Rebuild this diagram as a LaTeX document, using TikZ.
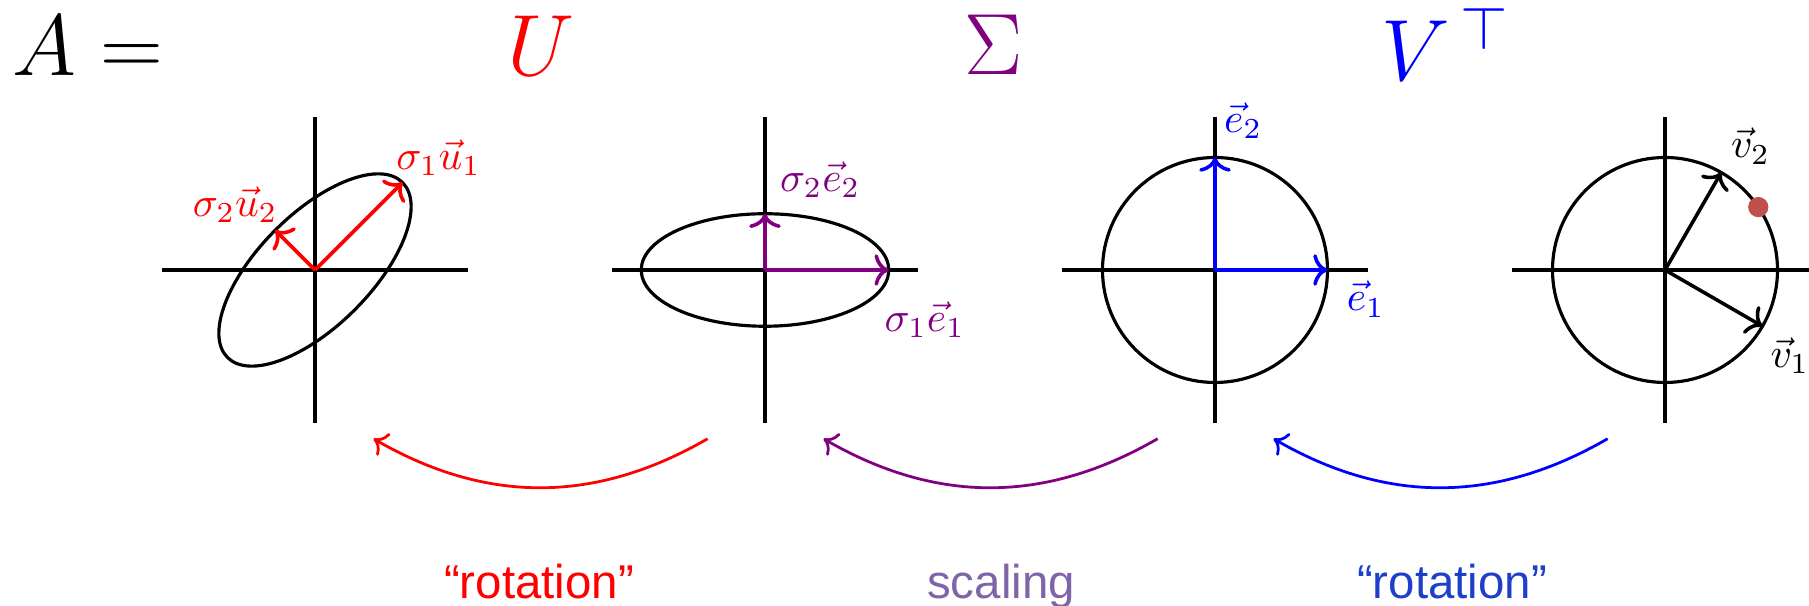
\RequirePackage{fix-cm}
\documentclass[tikz,border=0pt]{standalone}
\usepackage{fontspec}
\newfontfamily\labelsans{Liberation Sans}
\usetikzlibrary{arrows.meta}
\definecolor{myred}{RGB}{255,0,0}
\definecolor{mypurple}{RGB}{128,0,128}
\definecolor{myblue}{RGB}{0,0,255}
\definecolor{scalecol}{RGB}{128,100,168}
\definecolor{rotblue}{RGB}{30,64,200}
\definecolor{dotcol}{RGB}{192,80,77}
\begin{document}
\begin{tikzpicture}[
  axis/.style={line width=0.8pt, black},
  curve/.style={line width=0.8pt, black},
  vecarrow/.style={line width=0.9pt, -{To[length=3.6pt,width=8pt]}},
  maparrow/.style={line width=0.7pt, -{To[length=3.2pt,width=6.5pt]}, bend left=30},
  lab/.style={font=\fontsize{10.5}{12}\selectfont, inner sep=0pt},
  big/.style={font=\fontsize{22}{26}\selectfont, inner sep=0pt},
  word/.style={font=\labelsans\fontsize{12}{14}\selectfont, inner sep=0pt, anchor=base}
]
\clip (-2.8,-2.9867) rectangle (13.28,2.4);

% top line
\node[big, anchor=base west] (A) at (-2.70,1.733) {$A =$};
\node[big, anchor=base, text=myred] (U) at (2.01,1.733) {$U$};
\node[big, anchor=base, text=mypurple] (S) at (6.03,1.742) {$\Sigma$};
\node[big, anchor=base, text=myblue] (V) at (10.05,1.68) {$V^{\,\top}$};

% panel 1
\begin{scope}[shift={(0,0)}]
  \coordinate (o1) at (0,0);
  \draw[axis] (-1.36,0) -- (1.36,0);
  \draw[axis] (0,-1.36) -- (0,1.36);
  \draw[curve] (o1) ellipse [x radius=1.1, y radius=0.5, rotate=45];
  \coordinate (u1) at (45:1.1);
  \coordinate (u2) at (135:0.5);
  \draw[vecarrow, myred] (o1) -- (u1);
  \draw[vecarrow, myred] (o1) -- (u2);
  \node[lab, text=myred] (lu1) at (1.10,1.00) {$\sigma_1\vec{u}_1$};
  \node[lab, text=myred] (lu2) at (-0.71,0.58) {$\sigma_2\vec{u}_2$};
\end{scope}

% panel 2
\begin{scope}[shift={(4,0)}]
  \coordinate (o2) at (0,0);
  \draw[axis] (-1.36,0) -- (1.36,0);
  \draw[axis] (0,-1.36) -- (0,1.36);
  \draw[curve] (o2) ellipse [x radius=1.1, y radius=0.5];
  \coordinate (s1) at (1.1,0);
  \coordinate (s2) at (0,0.5);
  \draw[vecarrow, mypurple] (o2) -- (s1);
  \draw[vecarrow, mypurple] (o2) -- (s2);
  \node[lab, text=mypurple] (ls2) at (0.49,0.80) {$\sigma_2\vec{e}_2$};
  \node[lab, text=mypurple] (ls1) at (1.42,-0.44) {$\sigma_1\vec{e}_1$};
\end{scope}

% panel 3
\begin{scope}[shift={(8,0)}]
  \coordinate (o3) at (0,0);
  \draw[axis] (-1.36,0) -- (1.36,0);
  \draw[axis] (0,-1.36) -- (0,1.36);
  \draw[curve] (o3) circle (1);
  \coordinate (e1) at (1,0);
  \coordinate (e2) at (0,1);
  \draw[vecarrow, myblue] (o3) -- (e1);
  \draw[vecarrow, myblue] (o3) -- (e2);
  \node[lab, text=myblue] (le2) at (0.25,1.33) {$\vec{e}_2$};
  \node[lab, text=myblue] (le1) at (1.34,-0.26) {$\vec{e}_1$};
\end{scope}

% panel 4
\begin{scope}[shift={(12,0)}]
  \coordinate (o4) at (0,0);
  \draw[axis] (-1.36,0) -- (1.36,0);
  \draw[axis] (0,-1.36) -- (0,1.36);
  \draw[curve] (o4) circle (1);
  \coordinate (v1) at (-30:1);
  \coordinate (v2) at (60:1);
  \draw[vecarrow, black] (o4) -- (v1);
  \draw[vecarrow, black] (o4) -- (v2);
  \node[lab] (lv2) at (0.76,1.10) {$\vec{v}_2$};
  \node[lab] (lv1) at (1.11,-0.76) {$\vec{v}_1$};
  \coordinate (pd) at (34:1);
  \fill[dotcol] (pd) circle (0.09);
\end{scope}

% mapping arrows
\coordinate (a1s) at (3.49,-1.50);
\coordinate (a1e) at (0.52,-1.50);
\coordinate (a2s) at (7.49,-1.50);
\coordinate (a2e) at (4.52,-1.50);
\coordinate (a3s) at (11.49,-1.50);
\coordinate (a3e) at (8.52,-1.50);
\draw[maparrow, myred] (a1s) to (a1e);
\draw[maparrow, mypurple] (a2s) to (a2e);
\draw[maparrow, myblue] (a3s) to (a3e);

% words
\node[word, text=myred] (w1) at (1.991,-2.924) {“rotation”};
\node[word, text=scalecol] (w2) at (6.098,-2.924) {scaling};
\node[word, text=rotblue] (w3) at (10.107,-2.924) {“rotation”};
\end{tikzpicture}
\end{document}
